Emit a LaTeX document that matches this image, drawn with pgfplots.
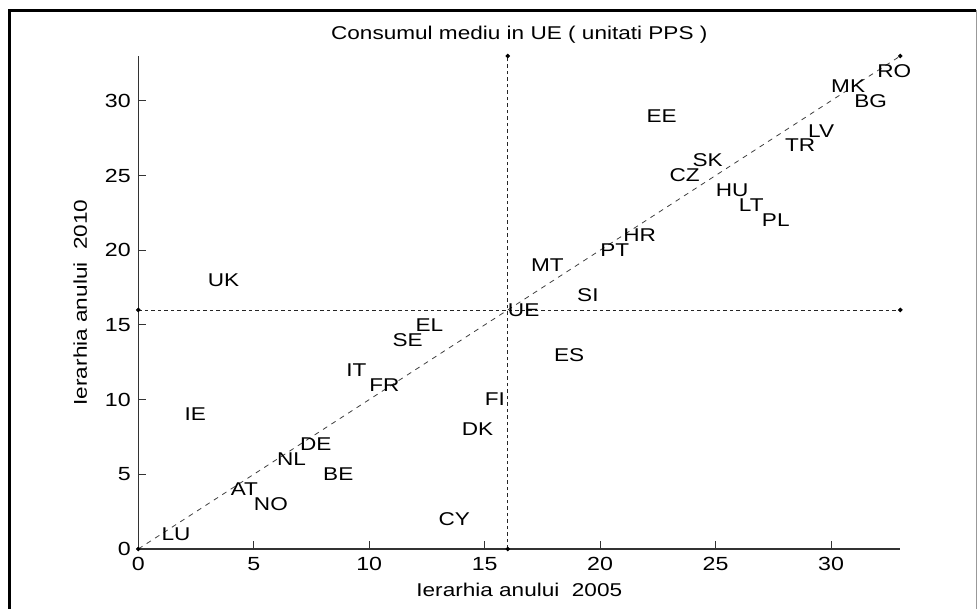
\documentclass[border=0pt]{standalone}
\usepackage{fontspec}
\setmainfont{Liberation Sans}[FakeStretch=1.22]
\usepackage{pgfplots}
\usepackage{pgfplotstable}
\pgfplotsset{compat=1.18}
\pgfplotstableread{
x y label
1 1 LU
2 9 IE
3 18 UK
4 4 AT
5 3 NO
6 6 NL
7 7 DE
8 5 BE
9 12 IT
10 11 FR
11 14 SE
12 15 EL
13 2 CY
14 8 DK
15 10 FI
16 16 UE
17 19 MT
18 13 ES
19 17 SI
20 20 PT
21 21 HR
22 29 EE
23 25 CZ
24 26 SK
25 24 HU
26 23 LT
27 22 PL
28 27 TR
29 28 LV
30 31 MK
31 30 BG
32 32 RO
}\datatable
\begin{document}
\begin{tikzpicture}[x=1bp,y=1bp]
\begin{axis}[
  at={(0,0)}, anchor=south west,
  scale only axis, width=762bp, height=493bp,
  xmin=0, xmax=33, ymin=0, ymax=33,
  axis lines=left,
  axis line style={-, line width=1.1bp, black!80},
  xtick={0,5,...,30}, ytick={0,5,...,30},
  tick align=inside, major tick length=8bp,
  tick style={line width=1bp, black!80},
  /pgf/number format/assume math mode=true,
  tick label style={font=\fontsize{19bp}{22bp}\selectfont},
  xticklabel style={yshift=-5bp},
  yticklabel style={xshift=-4bp},
  clip=false,
]
\addplot[black!75, line width=0.8bp, dash pattern=on 5bp off 5bp, mark=*, mark size=1.8bp, mark options={solid, fill=black, draw=black}] coordinates {(0,0) (33,33)};
\addplot[black!85, line width=0.9bp, dash pattern=on 3.5bp off 3bp, mark=*, mark size=1.8bp, mark options={solid, fill=black, draw=black}] coordinates {(0,16) (33,16)};
\addplot[black!85, line width=0.9bp, dash pattern=on 3.5bp off 3bp, mark=*, mark size=1.8bp, mark options={solid, fill=black, draw=black}] coordinates {(16,0) (16,33)};
\addplot[draw=none, mark=none, nodes near coords, point meta=explicit symbolic,
  nodes near coords style={anchor=west, inner sep=0pt, font=\fontsize{18.5bp}{22bp}\selectfont, text=black}]
  table[x=x, y=y, meta=label] {\datatable};
\node[font=\fontsize{18.5bp}{22bp}\selectfont] at ([yshift=21bp]rel axis cs:0.5,1) {Consumul mediu in UE ( unitati PPS )};
\node[font=\fontsize{18.5bp}{22bp}\selectfont] at ([yshift=-41bp]rel axis cs:0.5,0) {Ierarhia anului\ \ 2005};
\node[font=\fontsize{18.5bp}{22bp}\selectfont, rotate=90] at ([xshift=-58bp]rel axis cs:0,0.5) {Ierarhia anului\ \ 2010};
\end{axis}
\draw[line width=3bp, black] (-128.3,-60) -- (-128.3,538.7) -- (838,538.7);
\draw[line width=0.8bp, black!40] (838,538.7) -- (838,-60);
\useasboundingbox (-138.3,-60) rectangle (840.7,549);
\end{tikzpicture}
\end{document}
